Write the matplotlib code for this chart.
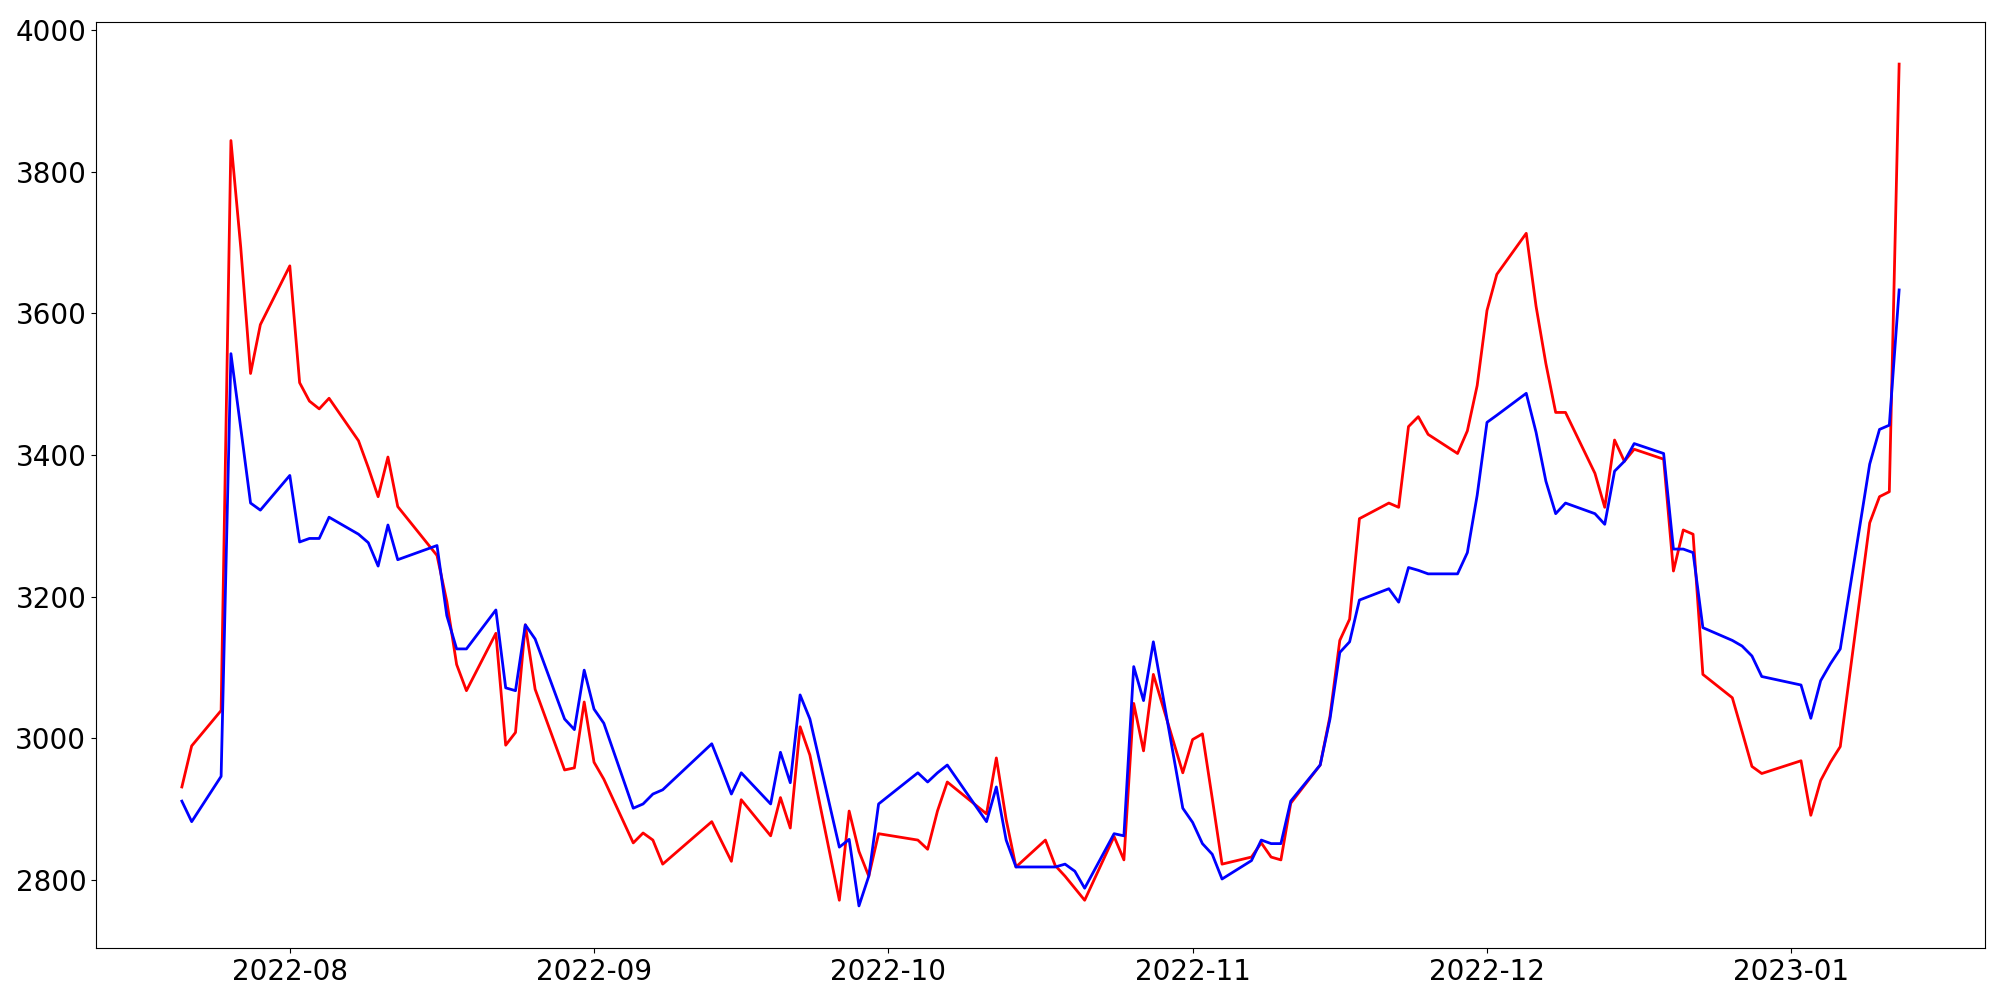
import pandas as pd
import matplotlib
matplotlib.use('Agg')
from matplotlib import pyplot as plt

# trading days (KRX calendar), 2022-07-21 .. 2023-01-12
start, end = '2022-07-21', '2023-01-12'
holidays = ['2022-08-15', '2022-09-09', '2022-09-12', '2022-10-03',
            '2022-10-10', '2022-12-30']
dates = pd.bdate_range(start, end, freq='C', holidays=holidays)

red_values = [
    # jul
    2931, 2989, 3039, 3844, 3693, 3515, 3584,
    # aug
    3667, 3502, 3476, 3465, 3480, 3420, 3382, 3341, 3397, 3327,
    3258, 3193, 3104, 3067, 3148, 2990, 3008, 3160, 3069, 2955, 2958, 3051,
    # sep
    2966, 2942, 2852, 2866, 2856, 2822, 2882, 2854, 2826, 2913,
    2862, 2916, 2873, 3016, 2976, 2771, 2897, 2840, 2805, 2865,
    # oct
    2856, 2843, 2897, 2938, 2893, 2972, 2885, 2818, 2856, 2820,
    2805, 2788, 2771, 2861, 2828, 3049, 2982, 3090, 2951,
    # nov
    2998, 3006, 2915, 2822, 2832, 2852, 2832, 2828, 2908, 2962, 3031,
    3138, 3168, 3310, 3332, 3326, 3440, 3454, 3429, 3402, 3434, 3498,
    # dec
    3604, 3655, 3713, 3610, 3529, 3460, 3460, 3374, 3326, 3421, 3391,
    3408, 3394, 3236, 3294, 3288, 3090, 3057, 3009, 2960, 2950,
    # jan
    2968, 2891, 2940, 2966, 2988, 3304, 3341, 3348, 3952,
]

blue_values = [
    # jul
    2911, 2882, 2946, 3543, 3438, 3332, 3322,
    # aug
    3371, 3277, 3282, 3282, 3312, 3288, 3276, 3243, 3301, 3252,
    3272, 3173, 3126, 3126, 3181, 3071, 3067, 3160, 3140, 3027, 3012, 3096,
    # sep
    3041, 3021, 2901, 2907, 2921, 2927, 2992, 2957, 2921, 2951,
    2907, 2980, 2937, 3061, 3027, 2846, 2857, 2763, 2805, 2907,
    # oct
    2951, 2938, 2951, 2962, 2882, 2931, 2856, 2818, 2818, 2818,
    2822, 2812, 2788, 2865, 2862, 3101, 3053, 3136, 2901,
    # nov
    2881, 2851, 2836, 2801, 2827, 2856, 2851, 2851, 2911, 2962, 3027,
    3121, 3136, 3195, 3211, 3192, 3241, 3237, 3232, 3232, 3262, 3343,
    # dec
    3446, 3456, 3487, 3432, 3363, 3317, 3332, 3317, 3302, 3377, 3391,
    3416, 3402, 3267, 3267, 3262, 3156, 3138, 3130, 3116, 3087,
    # jan
    3075, 3028, 3081, 3105, 3126, 3387, 3436, 3442, 3633,
]

print(len(dates), len(red_values), len(blue_values))

fig, ax = plt.subplots(figsize=(20, 10), dpi=100)
fig.subplots_adjust(left=0.048, right=0.9925, top=0.978, bottom=0.052)

ax.plot(dates, red_values, color='red', lw=2)
ax.plot(dates, blue_values, color='blue', lw=2)

ax.tick_params(axis='both', labelsize=20)

plt.savefig('out.png')
plt.close()
